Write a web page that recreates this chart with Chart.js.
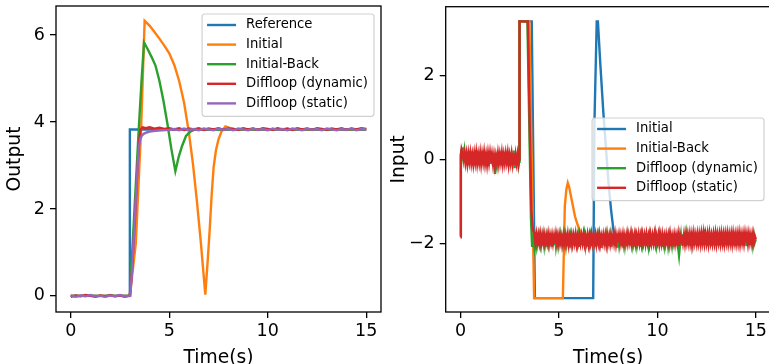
<!DOCTYPE html>
<html><head><meta charset="utf-8">
<script src="https://cdn.jsdelivr.net/npm/chart.js@4/dist/chart.umd.min.js"></script>
<style>
html,body{margin:0;padding:0;width:769px;height:364px;overflow:hidden;background:#fff;}
canvas{position:absolute;top:0;}
#c1{left:0}
#c2{left:384px}
</style></head>
<body>
<canvas id="c1" width="384" height="373"></canvas>
<canvas id="c2" width="390" height="373"></canvas>
<script>
// ---------- tick labels / categories ----------
const xTicks = [0, 5, 10, 15];
const outTicksY = [0, 2, 4, 6];
const inTicksY = [-2, 0, 2];
const outLabels = ['Reference', 'Initial', 'Initial-Back', 'Diffloop (dynamic)', 'Diffloop (static)'];
const inLabels = ['Initial', 'Initial-Back', 'Diffloop (dynamic)', 'Diffloop (static)'];

// ---------- Output (left) series: [time, value] ----------
const outReference = [[0,0],[2.99,0],[3.0,3.83],[15,3.83]];
const outInitial = [[0,0],[3.0,0],[3.3,1.2],[3.57,3.83],[3.75,6.33],[4.0,6.22],[4.25,6.07],[4.5,5.92],[4.75,5.76],[5.0,5.58],[5.25,5.32],[5.5,4.95],[5.75,4.45],[6.0,3.75],[6.2,3.05],[6.4,2.2],[6.6,1.25],[6.83,0.03],[6.95,0.8],[7.05,1.5],[7.15,2.3],[7.25,2.95],[7.37,3.35],[7.5,3.6],[7.65,3.78],[7.85,3.9],[8.1,3.86],[8.4,3.83],[15,3.83]];
const outBack = [[0,0],[3.0,0],[3.2,1.7],[3.45,3.83],[3.6,5.0],[3.72,5.83],[3.9,5.68],[4.1,5.5],[4.3,5.3],[4.5,4.95],[4.7,4.5],[4.9,3.98],[5.1,3.4],[5.31,2.87],[5.48,3.2],[5.65,3.45],[5.85,3.68],[6.07,3.78],[6.3,3.83],[15,3.83]];
const outDyn = [[0,-0.02],[0.25,0.01],[0.5,-0.01],[0.75,0.02],[1,0],[1.25,-0.02],[1.5,0.01],[1.75,-0.01],[2,0.02],[2.25,-0.01],[2.5,0.01],[2.75,-0.02],[3.0,0.01],[3.1,0.5],[3.25,1.7],[3.38,2.9],[3.47,3.55],[3.55,3.83],[3.65,3.88],[3.8,3.86],[4.0,3.88],[4.25,3.85],[4.5,3.87],[4.75,3.84],[5.0,3.86],[5.25,3.83],[5.5,3.86],[5.75,3.82],[6.0,3.85],[6.25,3.83],[6.5,3.86],[6.75,3.82],[7.0,3.85],[7.25,3.83],[7.5,3.86],[7.75,3.82],[8.0,3.85],[8.25,3.84],[8.5,3.82],[8.75,3.86],[9.0,3.83],[9.25,3.85],[9.5,3.82],[9.75,3.86],[10.0,3.84],[10.25,3.82],[10.5,3.86],[10.75,3.83],[11.0,3.85],[11.25,3.82],[11.5,3.86],[11.75,3.83],[12.0,3.85],[12.25,3.82],[12.5,3.86],[12.75,3.84],[13.0,3.82],[13.25,3.85],[13.5,3.83],[13.75,3.86],[14.0,3.82],[14.25,3.85],[14.5,3.83],[14.75,3.86],[15.0,3.84]];
const outStatic = [[0,0.01],[0.25,-0.02],[0.5,0.01],[0.75,-0.01],[1,0.02],[1.25,-0.01],[1.5,0],[1.75,-0.02],[2,0.01],[2.25,-0.01],[2.5,0.02],[2.75,-0.01],[3.02,0],[3.1,0.5],[3.25,1.8],[3.38,2.9],[3.45,3.4],[3.52,3.6],[3.6,3.68],[3.7,3.73],[3.85,3.76],[4.0,3.78],[4.3,3.8],[4.6,3.81],[5.0,3.82],[5.25,3.84],[5.5,3.81],[5.75,3.85],[6.0,3.82],[6.25,3.84],[6.5,3.81],[6.75,3.85],[7.0,3.83],[7.25,3.81],[7.5,3.85],[7.75,3.82],[8.0,3.84],[8.25,3.81],[8.5,3.85],[8.75,3.83],[9.0,3.81],[9.25,3.85],[9.5,3.82],[9.75,3.84],[10.0,3.81],[10.25,3.85],[10.5,3.82],[10.75,3.84],[11.0,3.81],[11.25,3.85],[11.5,3.83],[11.75,3.81],[12.0,3.85],[12.25,3.82],[12.5,3.84],[12.75,3.81],[13.0,3.85],[13.25,3.83],[13.5,3.81],[13.75,3.84],[14.0,3.82],[14.25,3.85],[14.5,3.81],[14.75,3.84],[15.0,3.83]];

// ---------- Input (right) series ----------
const inInitial = [[0,0],[2.99,0],[3.0,3.3],[3.62,3.3],[3.78,-3.3],[6.74,-3.3],[6.8,0.8],[6.92,3.3],[6.98,3.3],[7.1,2.3],[7.26,1.1],[7.4,0.2],[7.52,-0.56],[7.65,-1.2],[7.77,-1.68],[7.9,-1.88],[8.2,-1.9],[15,-1.9]];
const inBack = [[0,0],[2.99,0],[3.0,3.3],[3.5,3.3],[3.74,-3.3],[5.2,-3.3],[5.3,-1.1],[5.38,-0.7],[5.45,-0.55],[5.52,-0.65],[5.65,-0.96],[5.82,-1.36],[5.95,-1.55],[6.05,-1.68],[6.2,-1.8],[6.4,-1.88],[15,-1.9]];

// sample times of the noisy Diffloop input traces
const tEarly = [0.05,0.1,0.15,0.2,0.25,0.3,0.35,0.4,0.45,0.5,0.55,0.6,0.65,0.7,0.75,0.8,0.85,0.9,0.95,1.0,1.05,1.1,1.15,1.2,1.25,1.3,1.35,1.4,1.45,1.5,1.55,1.6,1.65,1.7,1.75,1.8,1.85,1.9,1.95,2.0,2.05,2.1,2.15,2.2,2.25,2.3,2.35,2.4,2.45,2.5,2.55,2.6,2.65,2.7,2.75,2.8,2.85,2.9,2.95];
const tLate = [3.75,3.8,3.85,3.9,3.95,4.0,4.05,4.1,4.15,4.2,4.25,4.3,4.35,4.4,4.45,4.5,4.55,4.6,4.65,4.7,4.75,4.8,4.85,4.9,4.95,5.0,5.05,5.1,5.15,5.2,5.25,5.3,5.35,5.4,5.45,5.5,5.55,5.6,5.65,5.7,5.75,5.8,5.85,5.9,5.95,6.0,6.05,6.1,6.15,6.2,6.25,6.3,6.35,6.4,6.45,6.5,6.55,6.6,6.65,6.7,6.75,6.8,6.85,6.9,6.95,7.0,7.05,7.1,7.15,7.2,7.25,7.3,7.35,7.4,7.45,7.5,7.55,7.6,7.65,7.7,7.75,7.8,7.85,7.9,7.95,8.0,8.05,8.1,8.15,8.2,8.25,8.3,8.35,8.4,8.45,8.5,8.55,8.6,8.65,8.7,8.75,8.8,8.85,8.9,8.95,9.0,9.05,9.1,9.15,9.2,9.25,9.3,9.35,9.4,9.45,9.5,9.55,9.6,9.65,9.7,9.75,9.8,9.85,9.9,9.95,10.0,10.05,10.1,10.15,10.2,10.25,10.3,10.35,10.4,10.45,10.5,10.55,10.6,10.65,10.7,10.75,10.8,10.85,10.9,10.95,11.0,11.05,11.1,11.15,11.2,11.25,11.3,11.35,11.4,11.45,11.5,11.55,11.6,11.65,11.7,11.75,11.8,11.85,11.9,11.95,12.0,12.05,12.1,12.15,12.2,12.25,12.3,12.35,12.4,12.45,12.5,12.55,12.6,12.65,12.7,12.75,12.8,12.85,12.9,12.95,13.0,13.05,13.1,13.15,13.2,13.25,13.3,13.35,13.4,13.45,13.5,13.55,13.6,13.65,13.7,13.75,13.8,13.85,13.9,13.95,14.0,14.05,14.1,14.15,14.2,14.25,14.3,14.35,14.4,14.45,14.5,14.55,14.6,14.65,14.7,14.75,14.8,14.85,14.9,14.95,15.0];

// Diffloop (dynamic) input
const inDynStart = [[0,-1.8],[0.02,0.1]];
const inDynEarly = [0.22,0.25,0.02,0.2,-0.08,0.16,-0.12,0.18,-0.05,0.21,-0.1,0.14,-0.14,0.19,-0.06,0.23,-0.11,0.15,-0.09,0.2,-0.13,0.17,-0.07,0.22,-0.12,0.13,-0.15,0.18,-0.08,0.2,-0.1,0.16,-0.14,0.12,-0.34,0.1,-0.09,0.19,-0.12,0.15,-0.07,0.21,-0.13,0.14,-0.1,0.18,-0.06,0.2,-0.15,0.13,-0.09,0.17,-0.12,0.22,-0.2,0.15,-0.1,0.16,-0.13];
const inDynStep = [[2.98,-0.05],[3.0,3.3],[3.4,3.3],[3.58,-1.4],[3.64,-2.08],[3.7,-1.9]];
const inDynLate = [
-2.08,-1.8,-2.02,-1.78,-2.06,-1.83,-2.0,-1.77,-2.05,-1.82,
-2.03,-1.79,-2.07,-1.84,-1.99,-1.76,-2.04,-1.81,-2.08,-1.8,
-2.01,-1.78,-2.05,-1.85,-2.02,-1.77,-2.06,-1.82,-2.0,-1.79,
-2.07,-1.83,-2.03,-1.76,-2.05,-1.8,-2.09,-1.84,-2.01,-1.78,
-2.04,-1.81,-2.06,-1.77,-2.0,-1.83,-2.08,-1.79,-2.02,-1.75,
-2.05,-1.82,-2.03,-1.8,-2.07,-1.76,-2.01,-1.84,-2.06,-1.78,
-2.02,-1.8,-2.08,-1.77,-2.04,-1.83,-2.0,-1.79,-2.1,-1.81,
-2.03,-1.76,-2.06,-1.82,-2.01,-1.78,-2.05,-1.84,-2.08,-1.8,
-2.02,-1.77,-2.04,-1.81,-2.07,-1.79,-2.0,-1.75,-2.05,-1.83,
-2.09,-1.8,-2.02,-1.78,-2.06,-1.82,-2.03,-1.76,-2.04,-1.81,
-2.01,-1.79,-2.07,-1.84,-2.02,-1.77,-2.05,-1.8,-2.08,-1.82,
-2.0,-1.78,-2.04,-1.81,-2.06,-1.76,-2.03,-1.83,-2.07,-1.79,
-2.02,-1.74,-2.05,-1.8,-2.01,-1.78,-2.06,-1.82,-2.04,-1.77,
-2.08,-1.81,-2.02,-1.79,-2.05,-1.76,-2.03,-1.83,-2.06,-1.78,
-2.01,-1.8,-2.07,-1.82,-2.04,-1.79,-2.08,-2.28,-2.02,-1.81,
-2.05,-1.77,-2.03,-1.75,-2.06,-1.8,-2.01,-1.73,-2.04,-1.78,
-2.0,-1.76,-2.05,-1.79,-2.02,-1.74,-2.06,-1.77,-2.01,-1.75,
-2.04,-1.72,-2.0,-1.66,-2.03,-1.78,-2.05,-1.74,-2.01,-1.77,
-2.06,-1.75,-2.02,-1.79,-2.04,-1.72,-2.0,-1.76,-2.05,-1.78,
-2.03,-1.74,-2.07,-1.77,-2.01,-1.73,-2.04,-1.79,-2.02,-1.75,
-2.05,-1.71,-2.0,-1.76,-2.06,-1.78,-2.03,-1.74,-2.04,-1.77,
-2.01,-1.75,-2.05,-1.79,-2.02,-1.73,-2.06,-1.77,-2.0,-1.76,
-2.03,-1.78,-2.01,-1.8,-1.97,-1.9];

// Diffloop (static) input
const inStaticStart = [[0,-1.85],[0.02,0.12]];
const inStaticEarly = [0.24,0.14,0.03,0.15,-0.06,0.13,-0.08,0.14,-0.04,0.15,-0.07,0.11,-0.09,0.14,-0.05,0.16,-0.08,0.12,-0.06,0.15,-0.09,0.13,-0.05,0.16,-0.08,0.11,-0.1,0.14,-0.06,0.15,-0.07,0.12,-0.09,0.1,-0.12,0.09,-0.06,0.14,-0.08,0.12,-0.05,0.15,-0.09,0.11,-0.07,0.14,-0.04,0.15,-0.1,0.1,-0.07,0.13,-0.08,0.15,-0.12,0.11,-0.07,0.12,-0.09];
const inStaticStep = [[2.98,0.02],[3.0,3.3],[3.42,3.3],[3.6,-1.2],[3.68,-1.68]];
const inStaticLate = [
-1.74,-1.95,-1.78,-1.98,-1.8,-1.97,-1.79,-2.0,-1.81,-1.96,
-1.8,-1.99,-1.82,-1.97,-1.79,-2.0,-1.81,-1.96,-1.8,-1.98,
-1.82,-2.0,-1.79,-1.97,-1.81,-1.99,-1.8,-1.96,-1.83,-2.0,
-1.8,-1.98,-1.81,-1.97,-1.79,-2.01,-1.82,-1.96,-1.8,-1.99,
-1.81,-1.97,-1.79,-2.0,-1.82,-1.96,-1.8,-1.98,-1.81,-1.97,
-1.79,-1.99,-1.82,-1.96,-1.8,-2.0,-1.81,-1.97,-1.79,-1.98,
-1.82,-1.96,-1.8,-2.0,-1.81,-1.97,-1.79,-1.99,-1.82,-1.96,
-1.8,-1.98,-1.81,-2.0,-1.79,-1.97,-1.82,-1.99,-1.8,-1.96,
-1.81,-1.98,-1.79,-2.0,-1.82,-1.97,-1.8,-1.99,-1.81,-1.96,
-1.79,-2.0,-1.82,-1.97,-1.8,-1.98,-1.81,-1.96,-1.79,-2.0,
-1.82,-1.97,-1.8,-1.99,-1.81,-1.96,-1.79,-1.98,-1.82,-2.0,
-1.8,-1.97,-1.81,-1.99,-1.79,-1.96,-1.82,-2.0,-1.8,-1.98,
-1.81,-1.97,-1.79,-1.99,-1.82,-1.96,-1.8,-2.0,-1.81,-1.98,
-1.79,-1.97,-1.82,-1.99,-1.8,-1.96,-1.81,-2.0,-1.79,-1.98,
-1.82,-1.97,-1.8,-1.99,-1.81,-1.96,-1.79,-2.06,-1.82,-1.98,
-1.8,-1.97,-1.79,-1.99,-1.78,-1.96,-1.8,-1.98,-1.78,-1.97,
-1.79,-1.99,-1.77,-1.96,-1.8,-1.98,-1.78,-1.97,-1.79,-1.99,
-1.77,-1.96,-1.76,-1.98,-1.79,-1.97,-1.78,-1.99,-1.77,-1.96,
-1.8,-1.98,-1.78,-1.97,-1.77,-1.99,-1.79,-1.96,-1.78,-1.98,
-1.77,-1.97,-1.79,-1.99,-1.78,-1.96,-1.77,-1.98,-1.79,-1.97,
-1.78,-1.99,-1.77,-1.96,-1.79,-1.98,-1.78,-1.97,-1.77,-1.99,
-1.79,-1.96,-1.78,-1.98,-1.77,-1.97,-1.79,-1.99,-1.78,-1.96,
-1.8,-1.98,-1.79,-1.97,-1.82,-1.9];

const zipT = (ts, vs) => ts.map((t, i) => [t, vs[i]]);
const inDyn = [...inDynStart, ...zipT(tEarly, inDynEarly), ...inDynStep, ...zipT(tLate, inDynLate)];
const inStatic = [...inStaticStart, ...zipT(tEarly, inStaticEarly), ...inStaticStep, ...zipT(tLate, inStaticLate)];

// ---------- styling ----------
const FONT = 'DejaVu Sans';
const outColors = ['#1f77b4', '#ff7f0e', '#2ca02c', '#d62728', '#9467bd'];
const inColors = ['#1f77b4', '#ff7f0e', '#2ca02c', '#d62728'];
const LW = 2.4;

const fmt = v => (v < 0 ? '\u2212' : '') + Math.abs(v);

const framePlugin = {
  id: 'frame',
  afterDatasetsDraw(chart) {
    const {ctx, chartArea: a} = chart;
    ctx.save();
    ctx.strokeStyle = '#000';
    ctx.lineWidth = 1.3;
    ctx.strokeRect(a.left, a.top, a.right - a.left, a.bottom - a.top);
    ctx.restore();
  }
};

const legendPlugin = {
  id: 'mplLegend',
  afterDraw(chart, args, opts) {
    const {ctx, chartArea: a} = chart;
    const ds = chart.data.datasets;
    ctx.save();
    ctx.font = opts.fontSize + 'px "' + FONT + '"';
    let maxW = 0;
    ds.forEach(d => { maxW = Math.max(maxW, ctx.measureText(d.label).width); });
    const rowH = 19.6;
    const w = 5 + 29 + 10 + maxW + 6;
    const h = ds.length * rowH + 4.3;
    const x = a.right - opts.marginRight - w;
    const y = opts.loc === 'center right' ? (a.top + a.bottom) / 2 - h / 2 : a.top + opts.marginTop;
    const r = 3;
    ctx.beginPath();
    ctx.moveTo(x + r, y);
    ctx.lineTo(x + w - r, y); ctx.quadraticCurveTo(x + w, y, x + w, y + r);
    ctx.lineTo(x + w, y + h - r); ctx.quadraticCurveTo(x + w, y + h, x + w - r, y + h);
    ctx.lineTo(x + r, y + h); ctx.quadraticCurveTo(x, y + h, x, y + h - r);
    ctx.lineTo(x, y + r); ctx.quadraticCurveTo(x, y, x + r, y);
    ctx.closePath();
    ctx.fillStyle = 'rgba(255,255,255,0.8)';
    ctx.fill();
    ctx.strokeStyle = 'rgba(204,204,204,0.9)';
    ctx.lineWidth = 1.2;
    ctx.stroke();
    ds.forEach((d, i) => {
      const cy = y + 11 + i * rowH;
      ctx.beginPath();
      ctx.strokeStyle = d.borderColor;
      ctx.lineWidth = LW;
      ctx.moveTo(x + 5, cy); ctx.lineTo(x + 34, cy);
      ctx.stroke();
      ctx.fillStyle = '#000';
      ctx.textBaseline = 'middle';
      ctx.textAlign = 'left';
      ctx.fillText(d.label, x + 44, cy);
    });
    ctx.restore();
  }
};

function scaleCfg(axis, min, max, ticks, title, size) {
  const isX = axis === 'x';
  return {
    type: 'linear', position: isX ? 'bottom' : 'left', min, max,
    afterBuildTicks: s => { s.ticks = ticks.map(v => ({value: v})); },
    afterFit: s => {
      if (isX) s.height = size; else s.width = size;
      s.paddingTop = 0; s.paddingBottom = 0; s.paddingLeft = 0; s.paddingRight = 0;
    },
    ticks: {font: {family: FONT, size: 17.5}, color: '#000', padding: isX ? 3 : 5, maxRotation: 0, autoSkip: false, callback: v => fmt(v)},
    grid: {drawOnChartArea: false, drawTicks: true, tickLength: 6, color: '#000', lineWidth: 1.3},
    border: {display: false},
    title: {display: true, text: title, font: {family: FONT, size: 18.7}, color: '#000', padding: {top: 4, bottom: 4}}
  };
}

function makeDatasets(series, labels, colors) {
  const n = series.length;
  return series.map((s, i) => ({
    label: labels[i],
    data: s.map(p => ({x: p[0], y: p[1]})),
    borderColor: colors[i],
    backgroundColor: colors[i],
    borderWidth: LW,
    pointRadius: 0,
    tension: 0,
    fill: false,
    order: n - i
  }));
}

function makeChart(id, datasets, yMin, yMax, yTicks, yTitle, yW, pad, legendOpts) {
  return new Chart(document.getElementById(id), {
    type: 'line',
    data: {datasets},
    options: {
      responsive: false, animation: false, devicePixelRatio: 1,
      layout: {padding: pad},
      plugins: {legend: {display: false}, tooltip: {enabled: false}, mplLegend: legendOpts},
      scales: {
        x: scaleCfg('x', -0.75, 15.75, xTicks, 'Time(s)', 61),
        y: scaleCfg('y', yMin, yMax, yTicks, yTitle, yW)
      }
    },
    plugins: [framePlugin, legendPlugin]
  });
}

makeChart('c1',
  makeDatasets([outReference, outInitial, outBack, outDyn, outStatic], outLabels, outColors),
  -0.37, 6.67, outTicksY, 'Output', 56,
  {left: 0, top: 6, right: 3, bottom: 0},
  {fontSize: 13.2, loc: 'upper right', marginRight: 7, marginTop: 8});

makeChart('c2',
  makeDatasets([inInitial, inBack, inDyn, inStatic], inLabels, inColors),
  -3.63, 3.65, inTicksY, 'Input', 61.7,
  {left: 0, top: 6.7, right: 3.4, bottom: 0},
  {fontSize: 13.2, loc: 'center right', marginRight: 6.6, marginTop: 0});
</script>
</body></html>
